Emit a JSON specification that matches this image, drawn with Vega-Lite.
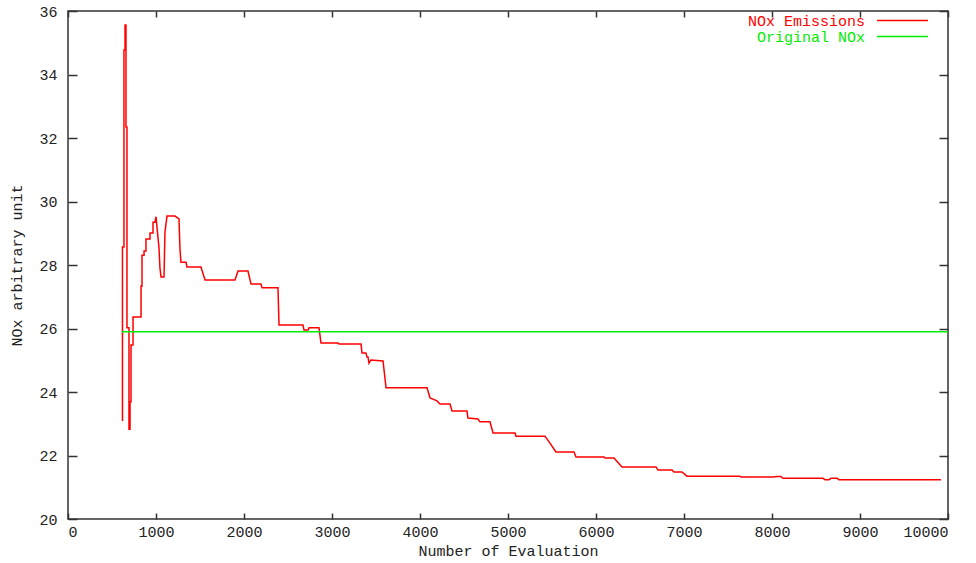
{
  "$schema": "https://vega.github.io/schema/vega-lite/v6.json",
  "width": 880,
  "height": 508,
  "autosize": {"type": "none"},
  "padding": {"left": 68, "top": 11, "right": 28, "bottom": 44},
  "background": "white",
  "config": {
    "view": {"stroke": "#333333", "strokeWidth": 1.5},
    "font": "Liberation Mono",
    "axis": {"grid": false, "domain": false, "tickColor": "#333333", "tickWidth": 1.5, "labelFont": "Liberation Mono", "labelFontSize": 15, "labelColor": "#222222", "titleFont": "Liberation Mono", "titleFontSize": 15, "titleFontWeight": "normal", "titleColor": "#222222"}
  },
  "datasets": {
    "red": [
      {"i": 0, "evals": 619, "nox": 23.09, "series": "NOx Emissions"},
      {"i": 1, "evals": 619, "nox": 28.57, "series": "NOx Emissions"},
      {"i": 2, "evals": 636, "nox": 28.57, "series": "NOx Emissions"},
      {"i": 3, "evals": 636, "nox": 34.77, "series": "NOx Emissions"},
      {"i": 4, "evals": 648, "nox": 34.77, "series": "NOx Emissions"},
      {"i": 5, "evals": 648, "nox": 35.56, "series": "NOx Emissions"},
      {"i": 6, "evals": 659, "nox": 35.56, "series": "NOx Emissions"},
      {"i": 7, "evals": 659, "nox": 32.35, "series": "NOx Emissions"},
      {"i": 8, "evals": 670, "nox": 32.35, "series": "NOx Emissions"},
      {"i": 9, "evals": 670, "nox": 26.02, "series": "NOx Emissions"},
      {"i": 10, "evals": 693, "nox": 26.02, "series": "NOx Emissions"},
      {"i": 11, "evals": 693, "nox": 22.83, "series": "NOx Emissions"},
      {"i": 12, "evals": 705, "nox": 22.83, "series": "NOx Emissions"},
      {"i": 13, "evals": 705, "nox": 23.69, "series": "NOx Emissions"},
      {"i": 14, "evals": 716, "nox": 23.69, "series": "NOx Emissions"},
      {"i": 15, "evals": 716, "nox": 25.48, "series": "NOx Emissions"},
      {"i": 16, "evals": 739, "nox": 25.48, "series": "NOx Emissions"},
      {"i": 17, "evals": 739, "nox": 26.36, "series": "NOx Emissions"},
      {"i": 18, "evals": 830, "nox": 26.36, "series": "NOx Emissions"},
      {"i": 19, "evals": 830, "nox": 27.34, "series": "NOx Emissions"},
      {"i": 20, "evals": 841, "nox": 27.34, "series": "NOx Emissions"},
      {"i": 21, "evals": 841, "nox": 28.31, "series": "NOx Emissions"},
      {"i": 22, "evals": 864, "nox": 28.31, "series": "NOx Emissions"},
      {"i": 23, "evals": 864, "nox": 28.44, "series": "NOx Emissions"},
      {"i": 24, "evals": 886, "nox": 28.44, "series": "NOx Emissions"},
      {"i": 25, "evals": 886, "nox": 28.82, "series": "NOx Emissions"},
      {"i": 26, "evals": 932, "nox": 28.82, "series": "NOx Emissions"},
      {"i": 27, "evals": 932, "nox": 29.01, "series": "NOx Emissions"},
      {"i": 28, "evals": 966, "nox": 29.01, "series": "NOx Emissions"},
      {"i": 29, "evals": 966, "nox": 29.35, "series": "NOx Emissions"},
      {"i": 30, "evals": 989, "nox": 29.35, "series": "NOx Emissions"},
      {"i": 31, "evals": 1000, "nox": 29.52, "series": "NOx Emissions"},
      {"i": 32, "evals": 1011, "nox": 29.2, "series": "NOx Emissions"},
      {"i": 33, "evals": 1034, "nox": 28.54, "series": "NOx Emissions"},
      {"i": 34, "evals": 1045, "nox": 27.91, "series": "NOx Emissions"},
      {"i": 35, "evals": 1057, "nox": 27.62, "series": "NOx Emissions"},
      {"i": 36, "evals": 1091, "nox": 27.62, "series": "NOx Emissions"},
      {"i": 37, "evals": 1102, "nox": 29.04, "series": "NOx Emissions"},
      {"i": 38, "evals": 1125, "nox": 29.54, "series": "NOx Emissions"},
      {"i": 39, "evals": 1216, "nox": 29.54, "series": "NOx Emissions"},
      {"i": 40, "evals": 1261, "nox": 29.45, "series": "NOx Emissions"},
      {"i": 41, "evals": 1273, "nox": 28.47, "series": "NOx Emissions"},
      {"i": 42, "evals": 1284, "nox": 28.09, "series": "NOx Emissions"},
      {"i": 43, "evals": 1341, "nox": 28.09, "series": "NOx Emissions"},
      {"i": 44, "evals": 1352, "nox": 27.94, "series": "NOx Emissions"},
      {"i": 45, "evals": 1511, "nox": 27.94, "series": "NOx Emissions"},
      {"i": 46, "evals": 1557, "nox": 27.53, "series": "NOx Emissions"},
      {"i": 47, "evals": 1898, "nox": 27.53, "series": "NOx Emissions"},
      {"i": 48, "evals": 1932, "nox": 27.81, "series": "NOx Emissions"},
      {"i": 49, "evals": 2045, "nox": 27.81, "series": "NOx Emissions"},
      {"i": 50, "evals": 2080, "nox": 27.4, "series": "NOx Emissions"},
      {"i": 51, "evals": 2193, "nox": 27.4, "series": "NOx Emissions"},
      {"i": 52, "evals": 2205, "nox": 27.28, "series": "NOx Emissions"},
      {"i": 53, "evals": 2386, "nox": 27.28, "series": "NOx Emissions"},
      {"i": 54, "evals": 2398, "nox": 26.11, "series": "NOx Emissions"},
      {"i": 55, "evals": 2670, "nox": 26.11, "series": "NOx Emissions"},
      {"i": 56, "evals": 2682, "nox": 25.95, "series": "NOx Emissions"},
      {"i": 57, "evals": 2727, "nox": 25.95, "series": "NOx Emissions"},
      {"i": 58, "evals": 2739, "nox": 26.02, "series": "NOx Emissions"},
      {"i": 59, "evals": 2852, "nox": 26.02, "series": "NOx Emissions"},
      {"i": 60, "evals": 2875, "nox": 25.54, "series": "NOx Emissions"},
      {"i": 61, "evals": 3068, "nox": 25.54, "series": "NOx Emissions"},
      {"i": 62, "evals": 3080, "nox": 25.51, "series": "NOx Emissions"},
      {"i": 63, "evals": 3330, "nox": 25.51, "series": "NOx Emissions"},
      {"i": 64, "evals": 3341, "nox": 25.23, "series": "NOx Emissions"},
      {"i": 65, "evals": 3386, "nox": 25.23, "series": "NOx Emissions"},
      {"i": 66, "evals": 3398, "nox": 25.1, "series": "NOx Emissions"},
      {"i": 67, "evals": 3409, "nox": 25.1, "series": "NOx Emissions"},
      {"i": 68, "evals": 3420, "nox": 24.91, "series": "NOx Emissions"},
      {"i": 69, "evals": 3443, "nox": 25.01, "series": "NOx Emissions"},
      {"i": 70, "evals": 3580, "nox": 24.98, "series": "NOx Emissions"},
      {"i": 71, "evals": 3614, "nox": 24.13, "series": "NOx Emissions"},
      {"i": 72, "evals": 4080, "nox": 24.13, "series": "NOx Emissions"},
      {"i": 73, "evals": 4114, "nox": 23.81, "series": "NOx Emissions"},
      {"i": 74, "evals": 4193, "nox": 23.72, "series": "NOx Emissions"},
      {"i": 75, "evals": 4227, "nox": 23.62, "series": "NOx Emissions"},
      {"i": 76, "evals": 4341, "nox": 23.62, "series": "NOx Emissions"},
      {"i": 77, "evals": 4364, "nox": 23.4, "series": "NOx Emissions"},
      {"i": 78, "evals": 4534, "nox": 23.4, "series": "NOx Emissions"},
      {"i": 79, "evals": 4545, "nox": 23.18, "series": "NOx Emissions"},
      {"i": 80, "evals": 4659, "nox": 23.15, "series": "NOx Emissions"},
      {"i": 81, "evals": 4682, "nox": 23.06, "series": "NOx Emissions"},
      {"i": 82, "evals": 4795, "nox": 23.06, "series": "NOx Emissions"},
      {"i": 83, "evals": 4830, "nox": 22.71, "series": "NOx Emissions"},
      {"i": 84, "evals": 5080, "nox": 22.71, "series": "NOx Emissions"},
      {"i": 85, "evals": 5091, "nox": 22.61, "series": "NOx Emissions"},
      {"i": 86, "evals": 5420, "nox": 22.61, "series": "NOx Emissions"},
      {"i": 87, "evals": 5477, "nox": 22.39, "series": "NOx Emissions"},
      {"i": 88, "evals": 5545, "nox": 22.11, "series": "NOx Emissions"},
      {"i": 89, "evals": 5750, "nox": 22.11, "series": "NOx Emissions"},
      {"i": 90, "evals": 5773, "nox": 21.95, "series": "NOx Emissions"},
      {"i": 91, "evals": 6091, "nox": 21.95, "series": "NOx Emissions"},
      {"i": 92, "evals": 6102, "nox": 21.92, "series": "NOx Emissions"},
      {"i": 93, "evals": 6205, "nox": 21.92, "series": "NOx Emissions"},
      {"i": 94, "evals": 6295, "nox": 21.64, "series": "NOx Emissions"},
      {"i": 95, "evals": 6682, "nox": 21.64, "series": "NOx Emissions"},
      {"i": 96, "evals": 6705, "nox": 21.54, "series": "NOx Emissions"},
      {"i": 97, "evals": 6864, "nox": 21.54, "series": "NOx Emissions"},
      {"i": 98, "evals": 6886, "nox": 21.48, "series": "NOx Emissions"},
      {"i": 99, "evals": 6977, "nox": 21.48, "series": "NOx Emissions"},
      {"i": 100, "evals": 7034, "nox": 21.35, "series": "NOx Emissions"},
      {"i": 101, "evals": 7636, "nox": 21.35, "series": "NOx Emissions"},
      {"i": 102, "evals": 7648, "nox": 21.32, "series": "NOx Emissions"},
      {"i": 103, "evals": 8011, "nox": 21.32, "series": "NOx Emissions"},
      {"i": 104, "evals": 8057, "nox": 21.34, "series": "NOx Emissions"},
      {"i": 105, "evals": 8102, "nox": 21.34, "series": "NOx Emissions"},
      {"i": 106, "evals": 8125, "nox": 21.28, "series": "NOx Emissions"},
      {"i": 107, "evals": 8580, "nox": 21.28, "series": "NOx Emissions"},
      {"i": 108, "evals": 8602, "nox": 21.24, "series": "NOx Emissions"},
      {"i": 109, "evals": 8648, "nox": 21.24, "series": "NOx Emissions"},
      {"i": 110, "evals": 8670, "nox": 21.28, "series": "NOx Emissions"},
      {"i": 111, "evals": 8739, "nox": 21.28, "series": "NOx Emissions"},
      {"i": 112, "evals": 8761, "nox": 21.24, "series": "NOx Emissions"},
      {"i": 113, "evals": 9920, "nox": 21.24, "series": "NOx Emissions"}
    ],
    "green": [
      {"i": 0, "evals": 610, "nox": 25.9, "series": "Original NOx"},
      {"i": 1, "evals": 10000, "nox": 25.9, "series": "Original NOx"}
    ]
  },
  "layer": [
    {
      "data": {"name": "red"},
      "mark": {"type": "line", "strokeWidth": 1.5, "clip": true},
      "encoding": {
        "x": {"field": "evals", "type": "quantitative", "scale": {"domain": [0, 10000], "nice": false, "zero": false},
              "axis": {"orient": "bottom", "title": "Number of Evaluation", "format": "d", "values": [0,1000,2000,3000,4000,5000,6000,7000,8000,9000,10000], "tickSize": -6, "labelPadding": 11, "titlePadding": 4}},
        "y": {"field": "nox", "type": "quantitative", "scale": {"domain": [20, 36], "nice": false, "zero": false},
              "axis": {"orient": "left", "title": "NOx arbitrary unit", "format": "d", "values": [20,22,24,26,28,30,32,34,36], "tickSize": -9, "labelPadding": 20, "titlePadding": 14}},
        "order": {"field": "i", "type": "quantitative"},
        "color": {"field": "series", "type": "nominal",
                  "scale": {"domain": ["NOx Emissions", "Original NOx"], "range": ["#ff0000", "#00ee00"]}}
      }
    },
    {
      "data": {"name": "green"},
      "mark": {"type": "line", "strokeWidth": 1.4, "clip": true},
      "encoding": {
        "x": {"field": "evals", "type": "quantitative", "scale": {"domain": [0, 10000], "nice": false, "zero": false},
              "axis": {"orient": "top", "labels": false, "title": null, "values": [0,1000,2000,3000,4000,5000,6000,7000,8000,9000,10000], "tickSize": -6}},
        "y": {"field": "nox", "type": "quantitative", "scale": {"domain": [20, 36], "nice": false, "zero": false},
              "axis": {"orient": "right", "labels": false, "title": null, "values": [20,22,24,26,28,30,32,34,36], "tickSize": -9}},
        "order": {"field": "i", "type": "quantitative"},
        "color": {"field": "series", "type": "nominal",
                  "scale": {"domain": ["NOx Emissions", "Original NOx"], "range": ["#ff0000", "#00ee00"]},
                  "legend": {"title": null, "orient": "none", "legendX": 827, "legendY": 2,
                             "symbolType": "M-10,0H10", "symbolSize": 26, "symbolStrokeWidth": 1.3,
                             "labelFont": "Liberation Mono", "labelFontSize": 15, "rowPadding": 0,
                             "encode": {
                               "labels": {"update": {"x": {"value": -30}, "align": {"value": "right"}, "fill": {"scale": "color", "field": "value"}}}
                             }}}
      }
    }
  ],
  "resolve": {"axis": {"x": "independent", "y": "independent"}}
}
